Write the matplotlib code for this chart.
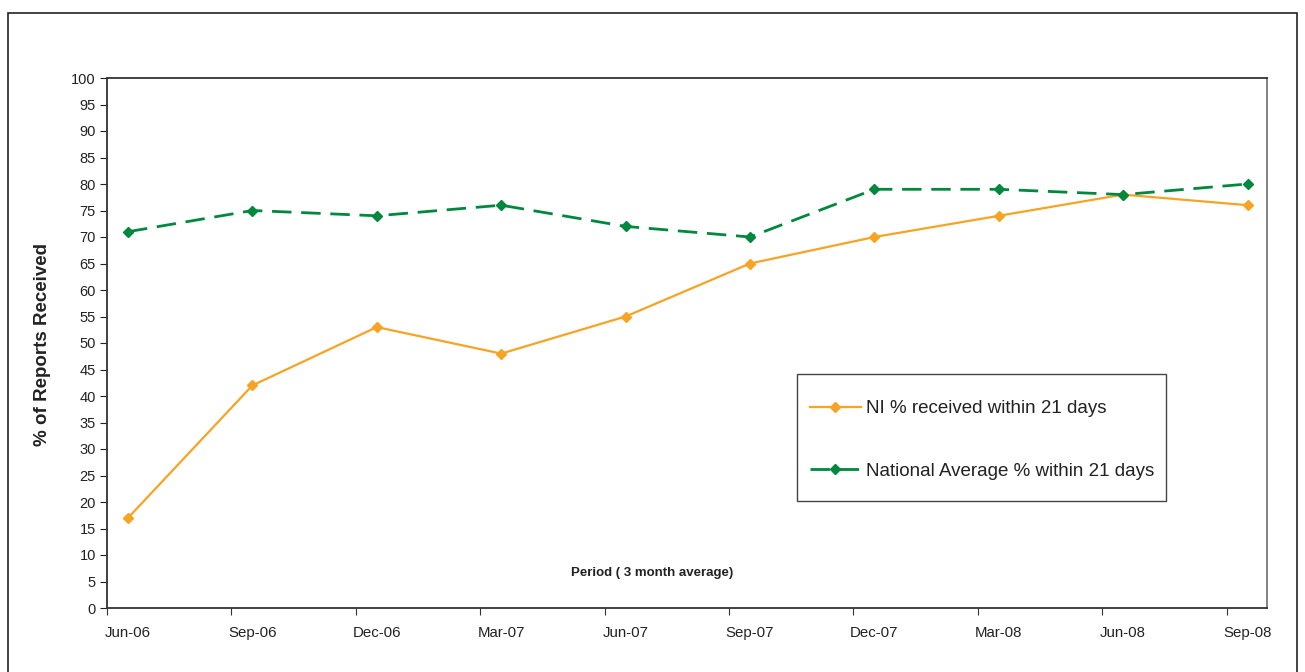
import matplotlib.pyplot as plt
from matplotlib.patches import Rectangle

plt.rcParams['font.family'] = ['Liberation Sans', 'DejaVu Sans']

# Quarterly data (3 month average)
periods = ['Jun-06', 'Sep-06', 'Dec-06', 'Mar-07', 'Jun-07',
           'Sep-07', 'Dec-07', 'Mar-08', 'Jun-08', 'Sep-08']
ni_pct = [17, 42, 53, 48, 55, 65, 70, 74, 78, 76]
national_pct = [71, 75, 74, 76, 72, 70, 79, 79, 78, 80]

orange = '#F7A324'
green = '#00883E'

W, H = 1305, 672
fig = plt.figure(figsize=(W / 100, H / 100), dpi=100)
ax = fig.add_axes([107 / W, 64 / H, (1267 - 107) / W, (608 - 78) / H])

x = list(range(len(periods)))
ax.plot(x, ni_pct, color=orange, lw=1.6, marker='D', ms=5,
        label='NI % received within 21 days')
ax.plot(x, national_pct, color=green, lw=2.0, marker='D', ms=5,
        dashes=(7, 3.5), label='National Average % within 21 days')

# ticks sit at the start of each quarter, labels under the data points
off = 0.169
ax.set_xlim(-off, 9.156)
ax.set_xticks([i - off for i in x])
ax.set_xticklabels([])
ax.set_xticks(x, minor=True)
ax.set_xticklabels(periods, minor=True)
ax.tick_params(axis='x', which='minor', length=0, pad=13, labelsize=10.8, colors='#222222')
ax.tick_params(axis='x', which='major', length=5, direction='out', color='#333333')

ax.set_ylim(0, 100)
ax.set_yticks(range(0, 101, 5))
ax.tick_params(axis='y', length=5, direction='out', labelsize=10.5, colors='#222222', pad=3)

for side in ['left', 'bottom', 'top']:
    ax.spines[side].set_color('#333333')
    ax.spines[side].set_linewidth(1.3)
ax.spines['right'].set_color('#777777')
ax.spines['right'].set_linewidth(1.3)

fig.text(43 / W, 1 - 345 / H, '% of Reports Received', rotation=90,
         ha='center', va='center', fontsize=13.5, fontweight='bold', color='#222222')
fig.text(652 / W, 1 - 573 / H, 'Period ( 3 month average)',
         ha='center', va='center', fontsize=9.5, fontweight='bold', color='#222222')

# legend without its own frame; box drawn separately
leg = ax.legend(loc='upper left', bbox_to_anchor=(810 / W, 1 - 400 / H),
                bbox_transform=fig.transFigure, frameon=False, fontsize=13.5,
                labelspacing=2.42, borderpad=0, handlelength=2.7,
                handletextpad=0.28, borderaxespad=0)
for t in leg.get_texts():
    t.set_color('#222222')
fig.patches.append(Rectangle((797 / W, 1 - 501 / H), (1166 - 797) / W, (501 - 374) / H,
                             transform=fig.transFigure, fill=False,
                             edgecolor='#444444', lw=1.0))

# outer chart frame
fig.patches.append(Rectangle((8 / W, -0.05), (1297 - 8) / W, 1.05 - 13 / H,
                             transform=fig.transFigure, fill=False,
                             edgecolor='#222222', lw=1.2))

fig.savefig('out.png', dpi=100)
